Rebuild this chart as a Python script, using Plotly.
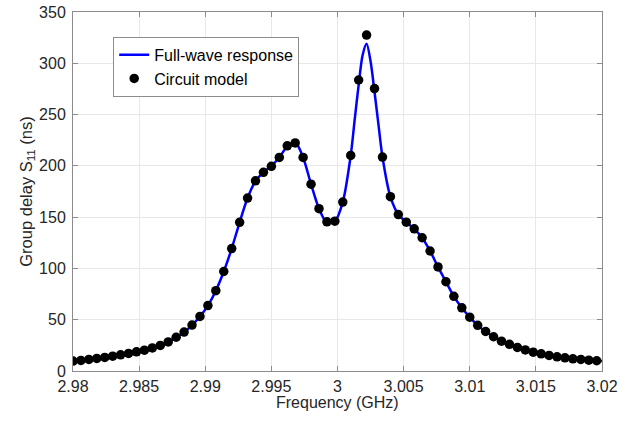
import plotly.graph_objects as go

# Circuit model samples (GHz, ns)
circuit_freq = [round(2.98 + 0.0006 * k, 4) for k in range(67)]
circuit_delay = [9.7, 10.3, 11.3, 12.3, 13.2, 14.5, 15.8, 17.1, 18.7, 20.3,
                 22.5, 24.9, 28.3, 32.9, 38.0, 44.8, 53.2, 63.8, 78.3, 97.0,
                 119.4, 145.0, 168.6, 185.4, 193.7, 199.5, 208.2, 219.5, 222.4, 208.2,
                 182.1, 158.3, 145.4, 146.1, 164.7, 210.2, 283.7, 327.5, 275.3, 208.6,
                 169.9, 152.5, 145.1, 138.6, 129.9, 117.0, 101.5, 87.0, 72.8, 61.6,
                 52.5, 44.5, 38.5, 33.4, 29.1, 26.0, 23.0, 20.5, 18.4, 16.7,
                 15.2, 13.8, 12.9, 11.9, 11.3, 10.6, 10.0]

# Full-wave response
fw_freq = [2.9800, 2.9806, 2.9812, 2.9818, 2.9824, 2.9830, 2.9836, 2.9842, 2.9848, 2.9854,
           2.9860, 2.9866, 2.9872, 2.9878, 2.9884, 2.9890, 2.9896, 2.9902, 2.9908, 2.9914,
           2.9920, 2.9926, 2.9932, 2.9938, 2.9944, 2.9950, 2.9956, 2.9962, 2.9968, 2.9974,
           2.9980, 2.9986, 2.9992, 2.9998, 3.0004, 3.0010, 3.0013, 3.0016, 3.0019, 3.0022,
           3.0025, 3.0028, 3.0031, 3.0034, 3.0040, 3.0046, 3.0052, 3.0058, 3.0064, 3.0070,
           3.0076, 3.0082, 3.0088, 3.0094, 3.0100, 3.0106, 3.0112, 3.0118, 3.0124, 3.0130,
           3.0136, 3.0142, 3.0148, 3.0154, 3.0160, 3.0166, 3.0172, 3.0178, 3.0184, 3.0190,
           3.0196, 3.0200]
fw_delay = [9.7, 10.3, 11.3, 12.3, 13.2, 14.5, 15.8, 17.1, 18.7, 20.3,
            22.5, 24.9, 28.3, 32.9, 38.0, 44.8, 53.2, 63.8, 78.3, 97.0,
            119.4, 145.0, 168.6, 185.4, 193.7, 200.0, 208.2, 219.0, 223.0, 208.2,
            182.1, 158.3, 144.5, 146.0, 164.7, 210.2, 245.0, 279.0, 308.0, 319.0,
            302.0, 272.0, 240.0, 208.6, 169.9, 152.5, 145.1, 138.6, 129.9, 117.0,
            101.5, 87.0, 72.8, 61.6, 52.5, 44.5, 38.5, 33.4, 29.1, 26.0,
            23.0, 20.5, 18.4, 16.7, 15.2, 13.8, 12.9, 11.9, 11.3, 10.6,
            10.0, 9.7]

x_ticks = [2.98, 2.985, 2.99, 2.995, 3.0, 3.005, 3.01, 3.015, 3.02]
x_tick_labels = ["2.98", "2.985", "2.99", "2.995", "3", "3.005", "3.01", "3.015", "3.02"]
y_ticks = [0, 50, 100, 150, 200, 250, 300, 350]

fig = go.Figure()
fig.add_trace(go.Scatter(x=fw_freq, y=fw_delay, mode="lines", name="Full-wave response",
                         line=dict(color="#0000ff", width=2.5, shape="spline", smoothing=0.8)))
fig.add_trace(go.Scatter(x=circuit_freq, y=circuit_delay, mode="markers", name="Circuit model",
                         marker=dict(color="black", size=9.5)))

axis_common = dict(showline=True, linecolor="#8c8c8c", linewidth=1, mirror="ticks",
                   ticks="inside", ticklen=5, tickcolor="#8c8c8c",
                   showgrid=True, gridcolor="#e8e8e8", gridwidth=1, zeroline=False,
                   automargin=False, ticklabeloverflow="allow",
                   tickfont=dict(size=16, color="#262626"))

fig.update_layout(
    width=631, height=423,
    margin=dict(l=73, r=29, t=12, b=52),
    paper_bgcolor="white", plot_bgcolor="white",
    font=dict(family="Liberation Sans, Arial, sans-serif", color="#262626"),
    showlegend=True,
    legend=dict(x=0.076, y=0.931, xanchor="left", yanchor="top",
                bgcolor="white", bordercolor="#8c8c8c", borderwidth=1,
                font=dict(size=16, color="black"), tracegroupgap=0,
                itemwidth=30),
    annotations=[dict(text="Frequency (GHz)", xref="paper", yref="paper",
                      x=0.5, y=-0.0875, xanchor="center", yanchor="middle",
                      showarrow=False, font=dict(size=16, color="#262626"))],
)
fig.update_xaxes(range=[2.98, 3.02], tickvals=x_ticks, ticktext=x_tick_labels,
                 ticklabelstandoff=1, **axis_common)
fig.update_yaxes(range=[0, 350], tickvals=y_ticks,
                 ticklabelstandoff=3,
                 title=dict(text="Group delay S<sub>11</sub> (ns)", font=dict(size=16.5, color="#262626"), standoff=2),
                 **axis_common)

# remove the default page margin so the figure sits at the window origin
fig.write_html("out.html", config={"displayModeBar": False},
               post_script="document.body.style.margin='0';")
